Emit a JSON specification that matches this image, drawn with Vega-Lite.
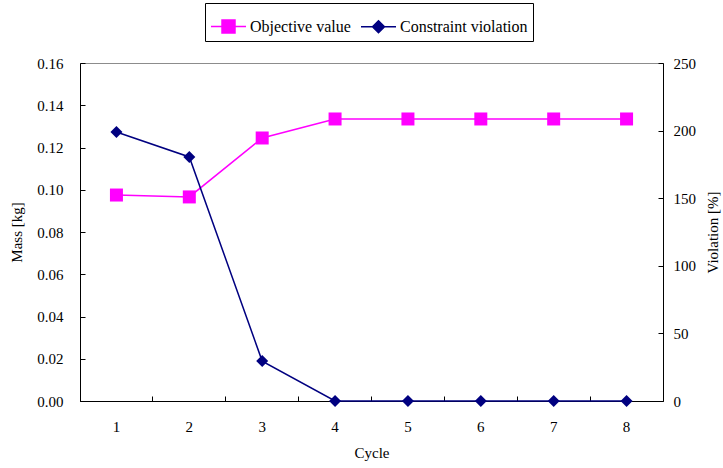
{
  "$schema": "https://vega.github.io/schema/vega-lite/v6.json",
  "width": 583,
  "height": 338,
  "autosize": {"type": "none"},
  "padding": {"left": 80, "top": 63, "right": 60, "bottom": 67},
  "background": "white",
  "config": {
    "view": {"stroke": "#8c8c8c", "strokeWidth": 1},
    "font": "Times New Roman, Liberation Serif, serif",
    "axis": {
      "grid": false,
      "domainColor": "black",
      "domainWidth": 1,
      "tickColor": "black",
      "tickSize": -5,
      "labelColor": "black",
      "labelFont": "Times New Roman, Liberation Serif, serif",
      "labelFontSize": 15,
      "titleFont": "Times New Roman, Liberation Serif, serif",
      "titleFontSize": 15,
      "titleFontWeight": "normal",
      "titleColor": "black"
    }
  },
  "data": {
    "values": [
      {"cycle": 1, "series": "Objective value", "value": 0.0975},
      {"cycle": 2, "series": "Objective value", "value": 0.0966},
      {"cycle": 3, "series": "Objective value", "value": 0.1245},
      {"cycle": 4, "series": "Objective value", "value": 0.1335},
      {"cycle": 5, "series": "Objective value", "value": 0.1335},
      {"cycle": 6, "series": "Objective value", "value": 0.1335},
      {"cycle": 7, "series": "Objective value", "value": 0.1335},
      {"cycle": 8, "series": "Objective value", "value": 0.1335},
      {"cycle": 1, "series": "Constraint violation", "value": 199},
      {"cycle": 2, "series": "Constraint violation", "value": 180.5},
      {"cycle": 3, "series": "Constraint violation", "value": 29.5},
      {"cycle": 4, "series": "Constraint violation", "value": 0},
      {"cycle": 5, "series": "Constraint violation", "value": 0},
      {"cycle": 6, "series": "Constraint violation", "value": 0},
      {"cycle": 7, "series": "Constraint violation", "value": 0},
      {"cycle": 8, "series": "Constraint violation", "value": 0}
    ]
  },
  "encoding": {
    "x": {
      "field": "cycle",
      "type": "ordinal",
      "scale": {"type": "band", "paddingInner": 0, "paddingOuter": 0},
      "axis": {"title": "Cycle", "labelAngle": 0, "bandPosition": 0, "labelPadding": 23, "titlePadding": 11}
    },
    "color": {
      "field": "series",
      "type": "nominal",
      "scale": {"domain": ["Objective value", "Constraint violation"], "range": ["#ff00ff", "#000080"]},
      "legend": {
        "title": null,
        "orient": "none",
        "legendX": 125,
        "legendY": -60,
        "direction": "horizontal",
        "strokeColor": "black",
        "fillColor": "white",
        "padding": 5,
        "labelFont": "Times New Roman, Liberation Serif, serif",
        "labelFontSize": 16,
        "labelColor": "black",
        "symbolSize": 1225,
        "symbolOffset": 0,
        "labelOffset": 3,
        "columnPadding": 7,
        "encode": {
          "symbols": {
            "update": {
              "shape": {"signal": "datum.value === 'Objective value' ? 'M-1,0H-0.371M0.371,0H1M-0.371,-0.371H0.371V0.371H-0.371Z' : 'M-1,0H-0.343M0.343,0H1M-0.343,0L0,-0.343L0.343,0L0,0.343Z'"},
              "stroke": {"signal": "datum.value === 'Objective value' ? '#ff00ff' : '#000080'"},
              "fill": {"signal": "datum.value === 'Objective value' ? '#ff00ff' : '#000080'"},
              "strokeWidth": {"value": 1.5},
              "opacity": {"value": 1}
            }
          }
        }
      }
    }
  },
  "layer": [
    {
      "transform": [{"filter": "datum.series === 'Objective value'"}],
      "encoding": {
        "y": {
          "field": "value",
          "type": "quantitative",
          "scale": {"domain": [0, 0.16], "nice": false},
          "axis": {"title": "Mass [kg]", "orient": "left", "values": [0, 0.02, 0.04, 0.06, 0.08, 0.1, 0.12, 0.14, 0.16], "format": ".2f", "labelPadding": 22, "titlePadding": 12}
        }
      },
      "layer": [
        {"mark": {"type": "line", "strokeWidth": 1.5}},
        {"mark": {"type": "point", "shape": "square", "filled": true, "size": 169, "opacity": 1}}
      ]
    },
    {
      "transform": [{"filter": "datum.series === 'Constraint violation'"}],
      "encoding": {
        "y": {
          "field": "value",
          "type": "quantitative",
          "scale": {"domain": [0, 250], "nice": false},
          "axis": {"title": "Violation [%]", "orient": "right", "values": [0, 50, 100, 150, 200, 250], "labelPadding": 15, "titlePadding": 10, "titleAngle": -90, "titleBaseline": "top"}
        }
      },
      "layer": [
        {"mark": {"type": "line", "strokeWidth": 1.5}},
        {"mark": {"type": "point", "shape": "diamond", "filled": true, "size": 144, "opacity": 1}}
      ]
    }
  ],
  "resolve": {"scale": {"y": "independent"}}
}
